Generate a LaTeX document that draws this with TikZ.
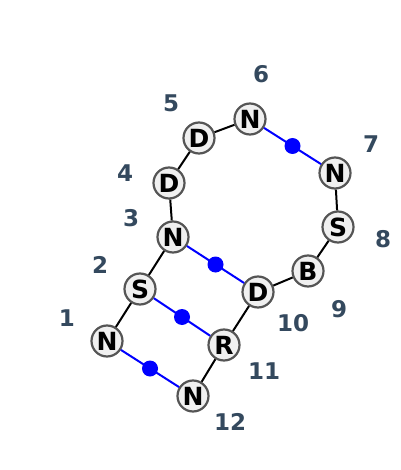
\documentclass[tikz,border=0pt]{standalone}
\usepackage{fontspec}
\setmainfont{DejaVu Sans}
\usetikzlibrary{calc}
\definecolor{numc}{HTML}{34495E}
\definecolor{nfill}{HTML}{F0F0F0}
\definecolor{nedge}{HTML}{555555}
\begin{document}
\begin{tikzpicture}[x=1pt,y=-1pt,
  res/.style={circle,draw=nedge,fill=nfill,line width=2.2pt,minimum size=31pt,inner sep=0pt,font=\fontsize{25}{25}\selectfont\bfseries},
  num/.style={text=numc,font=\fontsize{23}{23}\selectfont\bfseries},
  bb/.style={line width=2pt,black},
  hb/.style={line width=2pt,blue},
  dot/.style={circle,fill=blue,minimum size=16pt,inner sep=0pt}]
\useasboundingbox (0,0) rectangle (400,470);
\node[res] (n1) at (107,341) {N};
\node[res] (n2) at (140,289) {S};
\node[res] (n3) at (173,237) {N};
\node[res] (n4) at (169,183) {D};
\node[res] (n5) at (199,138) {D};
\node[res] (n6) at (250,119) {N};
\node[res] (n7) at (335,173) {N};
\node[res] (n8) at (338,227) {S};
\node[res] (n9) at (308,271) {B};
\node[res] (n10) at (258,292) {D};
\node[res] (n11) at (224,345) {R};
\node[res] (n12) at (193,396) {N};
\draw[bb] (n1) -- (n2);
\draw[bb] (n2) -- (n3);
\draw[bb] (n3) -- (n4);
\draw[bb] (n4) -- (n5);
\draw[bb] (n5) -- (n6);
\draw[bb] (n7) -- (n8);
\draw[bb] (n8) -- (n9);
\draw[bb] (n9) -- (n10);
\draw[bb] (n10) -- (n11);
\draw[bb] (n11) -- (n12);
\draw[hb] (n1) -- (n12);
\draw[hb] (n2) -- (n11);
\draw[hb] (n3) -- (n10);
\draw[hb] (n6) -- (n7);
\node[dot] (d1) at ($(n1)!0.5!(n12)$) {};
\node[dot] (d2) at ($(n2)!0.5!(n11)$) {};
\node[dot] (d3) at ($(n3)!0.5!(n10)$) {};
\node[dot] (d4) at ($(n6)!0.5!(n7)$) {};
\node[num] (l1) at (67,318) {1};
\node[num] (l2) at (100,265) {2};
\node[num] (l3) at (131,218) {3};
\node[num] (l4) at (125,173) {4};
\node[num] (l5) at (171,103) {5};
\node[num] (l6) at (261,74) {6};
\node[num] (l7) at (371,144) {7};
\node[num] (l8) at (383,239) {8};
\node[num] (l9) at (339,309) {9};
\node[num] (l10) at (293,323) {10};
\node[num] (l11) at (264,371) {11};
\node[num] (l12) at (230,422) {12};
\end{tikzpicture}
\end{document}
